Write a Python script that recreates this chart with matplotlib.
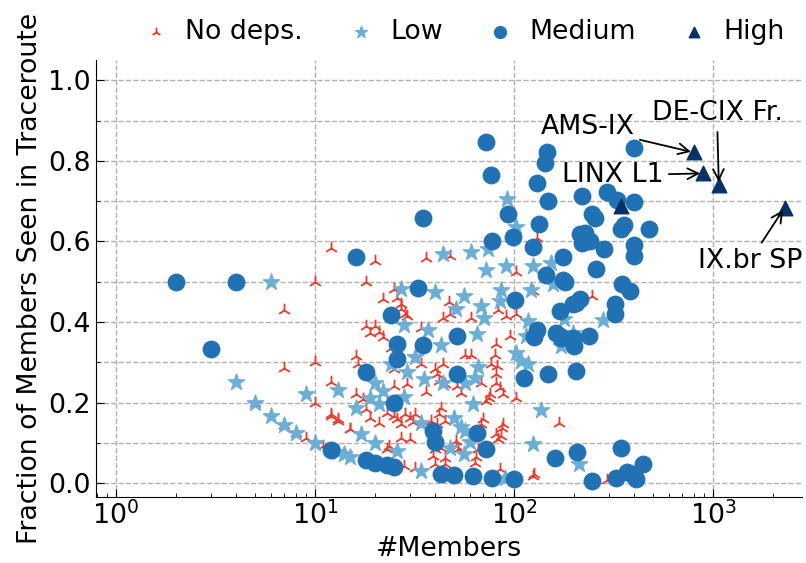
import matplotlib
matplotlib.use("Agg")
import matplotlib.pyplot as plt
from matplotlib.ticker import MultipleLocator

# (members, fraction seen in traceroute) per dependency class
no_deps = [
    (12, 0.583), (10, 0.5), (7, 0.429), (7, 0.286), (10, 0.3), (12, 0.25), (10, 0.2),
    (12, 0.167), (13, 0.154), (15, 0.133), (9, 0.111), (11, 0.091), (5, 0.2), (7, 0.143),
    (8, 0.125), (20, 0.552), (36, 0.56), (48, 0.565), (18, 0.5), (25, 0.482), (22, 0.458),
    (26, 0.46), (27, 0.445), (27, 0.433), (28.5, 0.42), (29, 0.415), (47, 0.45), (48, 0.42),
    (44, 0.41), (61, 0.41), (83, 0.43), (91, 0.415), (103, 0.42), (102, 0.525), (131, 0.609),
    (124, 0.478), (18, 0.39), (20, 0.39), (19, 0.373), (21, 0.376), (22, 0.363), (34, 0.386),
    (24, 0.336), (16, 0.316), (16.5, 0.296), (25, 0.284), (34, 0.296), (40, 0.284), (44, 0.296),
    (57, 0.318), (61, 0.318), (80, 0.318), (77, 0.296), (82, 0.291), (81, 0.271), (81, 0.249),
    (41, 0.271), (42, 0.254), (45, 0.246), (52, 0.241), (54, 0.224), (68, 0.249), (76, 0.221),
    (88, 0.221), (102, 0.211), (85, 0.236), (25, 0.241), (29, 0.246), (36, 0.226), (12, 0.172),
    (13, 0.159), (15, 0.134), (16, 0.221), (17.5, 0.209), (18, 0.184), (19, 0.162), (21, 0.149),
    (23, 0.174), (25, 0.167), (26, 0.159), (28.5, 0.172), (30, 0.162), (32, 0.172), (27, 0.147),
    (31, 0.152), (43, 0.187), (42, 0.172), (45, 0.154), (38.5, 0.154), (41, 0.147), (70, 0.159),
    (68, 0.147), (67, 0.129), (88, 0.147), (72, 0.204), (75, 0.211), (23.5, 0.092), (23, 0.085),
    (27, 0.112), (30, 0.109), (40, 0.085), (43, 0.087), (51, 0.104), (51, 0.092), (52.5, 0.085),
    (66, 0.085), (64.5, 0.065), (64, 0.05), (81, 0.122), (83, 0.109), (86, 0.117), (87, 0.137),
    (39, 0.067), (40, 0.047), (45, 0.062), (45, 0.047), (28, 0.042), (32, 0.037), (85, 0.035),
    (126, 0.022), (248, 0.465), (168, 0.149), (124, 0.017), (292, 0.007), (96, 0.366), (81, 0.346),
]

low = [
    (4, 0.25), (5, 0.2), (6, 0.167), (7, 0.143), (8, 0.125), (9, 0.222), (10, 0.1), (6, 0.5),
    (13, 0.231), (13, 0.077), (102, 0.637), (44, 0.57), (61, 0.575), (74, 0.582), (72, 0.53),
    (91, 0.54), (124, 0.54), (27, 0.483), (40, 0.475), (56, 0.465), (86, 0.48), (85, 0.453),
    (122, 0.48), (51, 0.433), (68, 0.44), (71, 0.41), (117, 0.403), (28, 0.393), (37, 0.38),
    (65, 0.371), (115, 0.366), (43, 0.343), (32, 0.313), (102, 0.323), (24, 0.296), (29, 0.276),
    (35.5, 0.259), (44, 0.249), (66, 0.289), (64, 0.261), (57, 0.249), (108, 0.303), (117, 0.296),
    (20, 0.249), (22, 0.229), (19, 0.211), (21, 0.196), (28, 0.214), (16, 0.187), (62, 0.196),
    (50, 0.162), (54, 0.14), (57, 0.129), (34, 0.149), (137, 0.182), (17, 0.122), (20, 0.1),
    (26, 0.08), (48, 0.087), (56, 0.072), (60, 0.102), (124, 0.097), (14, 0.072), (15, 0.065),
    (34, 0.03), (90, 0.012), (92, 0.706), (153, 0.547), (158, 0.495), (178, 0.408), (281, 0.405),
    (197, 0.373), (172, 0.341), (212, 0.047),
]

medium = [
    (2, 0.5), (4, 0.5), (3, 0.333), (12, 0.083), (18, 0.057), (20, 0.05), (23, 0.045), (25, 0.04),
    (43, 0.022), (50, 0.02), (62, 0.017), (78, 0.012), (100, 0.01), (35, 0.659), (93, 0.669),
    (133, 0.644), (78, 0.602), (99, 0.612), (124, 0.587), (16, 0.562), (145, 0.517), (33, 0.485),
    (101, 0.455), (24, 0.418), (131, 0.381), (126, 0.363), (52, 0.366), (26, 0.346), (35, 0.343),
    (26, 0.308), (18, 0.276), (52, 0.271), (112, 0.261), (148, 0.271), (25, 0.2), (39, 0.129),
    (65, 0.124), (40, 0.102), (72, 0.085), (72, 0.846), (77, 0.764), (403, 0.833), (146, 0.821),
    (143, 0.796), (131, 0.746), (149, 0.701), (221, 0.714), (292, 0.724), (331, 0.704),
    (403, 0.699), (248, 0.669), (256, 0.659), (359, 0.642), (344, 0.632), (479, 0.632),
    (215, 0.619), (228, 0.622), (234, 0.602), (221, 0.595), (242, 0.602), (403, 0.59),
    (403, 0.565), (285, 0.58), (176, 0.562), (259, 0.532), (176, 0.505), (180, 0.5), (350, 0.495),
    (382, 0.478), (215, 0.458), (204, 0.448), (197, 0.445), (322, 0.445), (322, 0.42),
    (170, 0.428), (163, 0.373), (170, 0.366), (172, 0.361), (197, 0.361), (200, 0.341),
    (237, 0.366), (206, 0.279), (160, 0.062), (208, 0.077), (344, 0.087), (445, 0.047),
    (248, 0.005), (327, 0.012), (372, 0.027), (394, 0.022), (410, 0.01),
]

high = [(344, 0.687), (800, 0.821), (890, 0.769), (1070, 0.741), (2290, 0.684)]

# name, point index in `high`, text position
labels = [
    ("AMS-IX", 1, (234, 0.883)),
    ("LINX L1", 2, (313, 0.764)),
    ("DE-CIX Fr.", 3, (1047, 0.918)),
    ("IX.br SP", 4, (1531, 0.552)),
]

plt.rcParams["font.family"] = "DejaVu Sans"
plt.rcParams["font.size"] = 19.3

fig = plt.figure(figsize=(8.06, 5.63), dpi=100)
ax = fig.add_axes([0.119, 0.117, 0.876, 0.776])

x, y = zip(*no_deps)
ax.scatter(x, y, marker="2", s=95, color="#ef3b2c", linewidths=1.3, label="No deps.", zorder=3)
x, y = zip(*low)
ax.scatter(x, y, marker="*", s=150, color="#6baed6", label="Low", zorder=4)
x, y = zip(*medium)
ax.scatter(x, y, marker="o", s=140, color="#2171b5", label="Medium", zorder=5)
x, y = zip(*high)
ax.scatter(x, y, marker="^", s=110, color="#08306b", label="High", zorder=6)

for name, i, pos in labels:
    ax.annotate(name, xy=high[i], xytext=pos, ha="center", va="center",
                arrowprops=dict(arrowstyle="->", color="black", lw=1.3), zorder=7)

ax.set_xscale("log")
ax.set_xlim(0.794, 2800)
ax.set_ylim(-0.035, 1.05)
ax.yaxis.set_major_locator(MultipleLocator(0.2))
ax.yaxis.set_minor_locator(MultipleLocator(0.1))

ax.grid(True, which="major", axis="both", linestyle="--", color="#b0b0b0", lw=1)
ax.grid(True, which="minor", axis="y", linestyle="--", color="#b0b0b0", lw=1)
ax.set_axisbelow(True)

ax.spines["top"].set_visible(False)
ax.spines["right"].set_visible(False)
ax.tick_params(which="both", direction="in", top=False, right=False)
ax.tick_params(which="major", length=6)
ax.tick_params(which="minor", length=3)

ax.set_xlabel("#Members")
ax.set_ylabel("Fraction of Members Seen in Traceroute")

ax.legend(loc="center", bbox_to_anchor=(0.516, 1.064), ncol=4, frameon=False,
          handlelength=1.5, handletextpad=0.35, columnspacing=1.4,
          markerscale=0.72, scatterpoints=1)

fig.savefig("out.png", dpi=100)
